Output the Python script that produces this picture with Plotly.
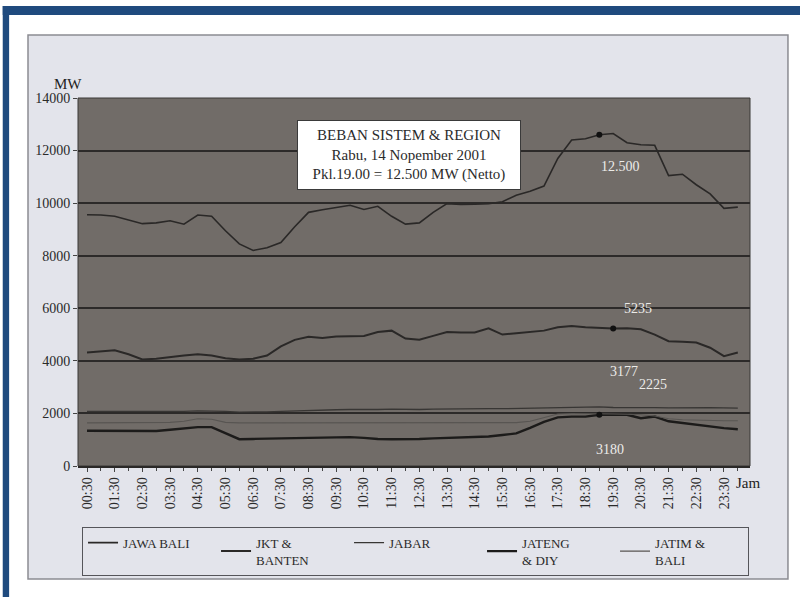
import plotly.graph_objects as go

# ── data (MW, setiap 30 menit, 00:30 .. 24:00) ─────────────────────
jam = [0.5 * i for i in range(1, 49)]

jawa_bali = [9560, 9550, 9500, 9350, 9220, 9250, 9330, 9200, 9550, 9500,
             8950, 8450, 8200, 8300, 8500, 9100, 9650, 9750, 9830, 9920,
             9760, 9880, 9500, 9200, 9250, 9650, 9980, 9950, 9960, 9980,
             10050, 10300, 10450, 10650, 11700, 12400, 12450, 12600, 12650, 12300,
             12220, 12200, 11050, 11100, 10700, 10350, 9800, 9850]

jkt_banten = [4320, 4350, 4400, 4250, 4050, 4080, 4150, 4200, 4250, 4200,
              4100, 4050, 4080, 4200, 4550, 4800, 4920, 4870, 4930, 4950,
              4950, 5100, 5150, 4850, 4800, 4950, 5100, 5080, 5080, 5240,
              5000, 5050, 5100, 5150, 5280, 5330, 5280, 5250, 5235, 5240,
              5200, 5000, 4750, 4730, 4700, 4500, 4180, 4320]

jabar = [2080, 2080, 2080, 2070, 2060, 2060, 2070, 2080, 2100, 2100,
         2080, 2050, 2050, 2060, 2080, 2100, 2120, 2130, 2140, 2150,
         2140, 2150, 2160, 2150, 2150, 2160, 2170, 2170, 2180, 2180,
         2180, 2190, 2200, 2210, 2230, 2250, 2260, 2250, 2225, 2230,
         2220, 2220, 2210, 2220, 2230, 2220, 2210, 2200]

jateng_diy = [1340, 1340, 1340, 1340, 1340, 1330, 1380, 1420, 1480, 1480,
              1250, 1020, 1030, 1040, 1060, 1070, 1080, 1080, 1090, 1100,
              1070, 1030, 1020, 1020, 1030, 1050, 1070, 1090, 1100, 1120,
              1180, 1240, 1450, 1680, 1850, 1880, 1880, 1950, 1950, 1950,
              1820, 1880, 1700, 1630, 1560, 1500, 1440, 1400]

jatim_bali = [1640, 1640, 1640, 1640, 1640, 1650, 1660, 1700, 1800, 1780,
              1660, 1640, 1640, 1640, 1650, 1650, 1650, 1650, 1660, 1660,
              1650, 1650, 1650, 1640, 1640, 1640, 1640, 1640, 1640, 1640,
              1640, 1650, 1700, 1850, 1980, 2000, 2000, 1990, 1980, 1970,
              1950, 1900, 1800, 1760, 1740, 1720, 1720, 1720]

tick_jam = [h + 0.5 for h in range(24)]
tick_label = [f"{h:02d}:30" for h in range(24)]

# label nilai di dalam grafik
label_text = ["12.500", "5235", "3177", "2225", "3180"]
label_x = [19.78, 20.4, 19.9, 20.93, 19.4]
label_y = [11400, 6000, 3590, 3100, 610]

FONT = "Liberation Serif"
LINE = "#2a2827"
PANEL = "#e3e4eb"

fig = go.Figure()
series = [
    ("JAWA BALI", jawa_bali, dict(color=LINE, width=1.6)),
    ("JKT &<br>BANTEN", jkt_banten, dict(color=LINE, width=2)),
    ("JABAR", jabar, dict(color="#383634", width=1.3)),
    ("JATENG<br>& DIY", jateng_diy, dict(color="#1c1b1a", width=2.4)),
    ("JATIM &<br>BALI", jatim_bali, dict(color="#585552", width=1.1)),
]
for name, ys, line in series:
    fig.add_trace(go.Scatter(x=jam, y=ys, mode="lines", name=name, line=line))

# titik puncak
i19, i1930 = jam.index(19.0), jam.index(19.5)
fig.add_trace(go.Scatter(
    x=[jam[i19], jam[i1930], jam[i19]],
    y=[jawa_bali[i19], jkt_banten[i1930], jateng_diy[i19]],
    mode="markers", marker=dict(color="#111", size=6), showlegend=False,
))

for t, x, y in zip(label_text, label_x, label_y):
    fig.add_annotation(x=x, y=y, text=t, showarrow=False,
                       font=dict(family=FONT, size=14, color="#ecebe8"))

fig.add_annotation(
    x=0.4926, y=0.845, xref="paper", yref="paper", xanchor="center", yanchor="middle",
    text="BEBAN SISTEM & REGION<br>Rabu, 14 Nopember 2001<br>Pkl.19.00 = 12.500 MW (Netto)",
    showarrow=False, align="center", width=216, height=62, borderpad=3,
    bgcolor="white", bordercolor="#3a3a3a", borderwidth=1,
    font=dict(family=FONT, size=15, color="#2b2b2b"),
)
fig.add_annotation(x=-0.038, y=1.066, xref="paper", yref="paper", text="MW", showarrow=False,
                   font=dict(family=FONT, size=15, color="#222"))
fig.add_annotation(x=0.997, y=-0.073, xref="paper", yref="paper", xanchor="center", text="Jam",
                   showarrow=False, font=dict(family=FONT, size=15, color="#222"))

# bingkai: panel abu-abu muda + garis biru + latar plot gelap
fig.add_shape(type="rect", xref="paper", yref="paper", x0=-0.0744, x1=1.0565, y0=-0.307, y1=1.171,
              fillcolor=PANEL, line=dict(color="#8c8c92", width=1.5), layer="below")
fig.add_shape(type="rect", xref="paper", yref="paper", x0=-0.112, x1=1.08, y0=1.2255, y1=1.25,
              fillcolor="#1f4a7e", line=dict(width=0), layer="below")
fig.add_shape(type="rect", xref="paper", yref="paper", x0=-0.112, x1=-0.1025, y0=-0.36, y1=1.25,
              fillcolor="#1f4a7e", line=dict(width=0), layer="below")
fig.add_shape(type="rect", xref="paper", yref="paper", x0=0, x1=1, y0=0, y1=1,
              fillcolor="#716c68", line=dict(color="#3a3837", width=1), layer="below")

fig.update_layout(
    width=800, height=597,
    margin=dict(l=78, r=50, t=98, b=131),
    paper_bgcolor="white",
    plot_bgcolor="#716c68",
    font=dict(family=FONT, size=14, color="#2a2a2a"),
    legend=dict(
        orientation="h", x=0.006, y=-0.165, xanchor="left", yanchor="top",
        bgcolor=PANEL, bordercolor="#55555a", borderwidth=1,
        entrywidth=88, entrywidthmode="pixels", itemwidth=30,
        font=dict(family=FONT, size=13, color="#2a2a2a"),
    ),
)
fig.update_xaxes(
    range=[0.175, 24.44], tickvals=tick_jam, ticktext=tick_label, tickangle=-90,
    showgrid=False, zeroline=False, ticks="outside", ticklen=4, tickcolor="#444",
    minor=dict(ticks="outside", dtick=0.5, tick0=0, ticklen=3, tickcolor="#444"),
    tickfont=dict(family=FONT, size=14, color="#2a2a2a"),
    showline=True, linecolor="#2a2827", linewidth=1.5,
)
fig.update_yaxes(
    range=[0, 14000], dtick=2000, tickformat="d",
    showgrid=True, gridcolor="#2c2a29", gridwidth=1.5, zeroline=False,
    ticks="outside", ticklen=4, tickcolor="#444",
    tickfont=dict(family=FONT, size=14, color="#2a2a2a"),
)

fig.write_html("out.html", config={"displayModeBar": False},
               post_script="document.body.style.margin='0';")
